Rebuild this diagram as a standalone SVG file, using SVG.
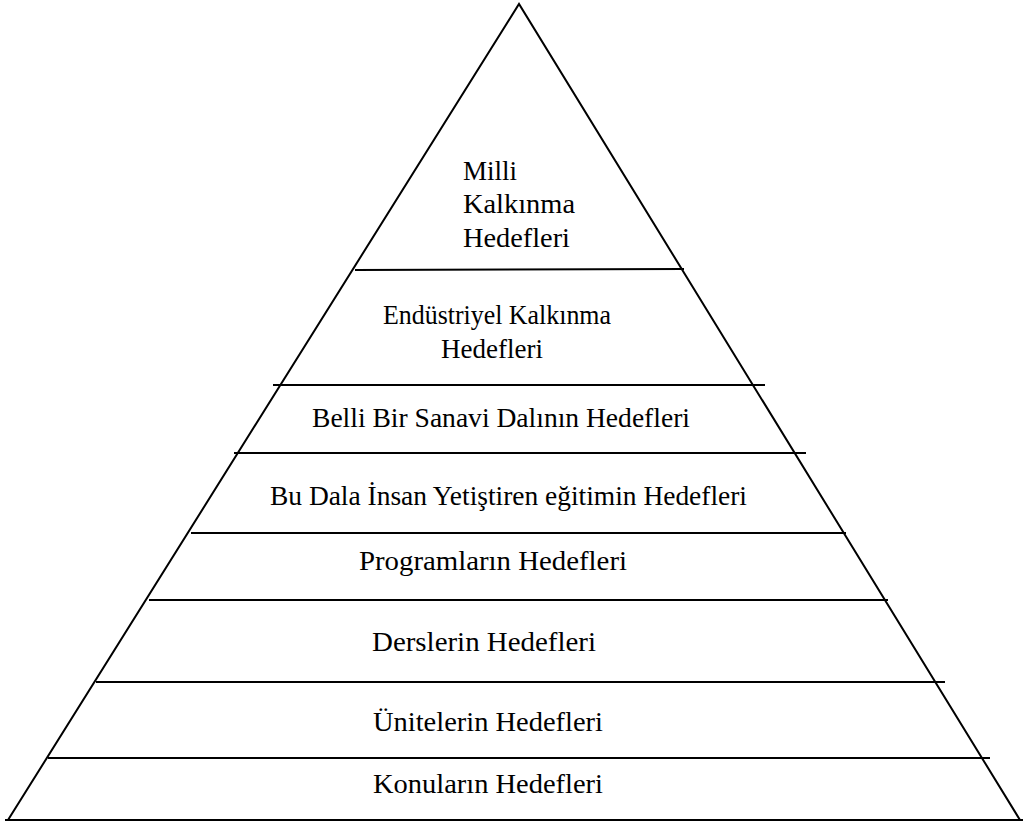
<svg xmlns="http://www.w3.org/2000/svg" width="1023" height="822" viewBox="0 0 1023 822">
<style>
.ln{stroke:#000;stroke-width:2;fill:none}
.t{font-family:"Liberation Serif","Times New Roman",serif;font-size:27px;fill:#000}
</style>
<defs><clipPath id="cb"><rect x="0" y="0" width="1023" height="796"/></clipPath></defs>
<rect width="1023" height="822" fill="#fff"/>
<g id="connectors">
<path class="ln" d="M8,820 L519,4 L1020,820"/>
<line class="ln" x1="5" y1="820" x2="1023" y2="820"/>
<line class="ln" x1="355" y1="270" x2="684" y2="269"/>
<line class="ln" x1="273" y1="385" x2="765" y2="385"/>
<line class="ln" x1="234" y1="453" x2="806" y2="453"/>
<line class="ln" x1="191" y1="533" x2="846" y2="533"/>
<line class="ln" x1="149" y1="600" x2="888" y2="600"/>
<line class="ln" x1="96" y1="682" x2="945" y2="682"/>
<line class="ln" x1="48" y1="758" x2="990" y2="758"/>
</g>
<g id="n1"><text class="t" x="463" y="180">Milli</text><text class="t" x="463" y="213" textLength="112" lengthAdjust="spacingAndGlyphs">Kalkınma</text><text class="t" x="463" y="247" textLength="107" lengthAdjust="spacingAndGlyphs">Hedefleri</text></g>
<g id="n2"><text class="t" x="383" y="324" textLength="228" lengthAdjust="spacingAndGlyphs">Endüstriyel Kalkınma</text><text class="t" x="441" y="358">Hedefleri</text></g>
<g id="n3"><text class="t" x="312" y="427" textLength="378" lengthAdjust="spacingAndGlyphs">Belli Bir Sanavi Dalının Hedefleri</text></g>
<g id="n4"><text class="t" x="270" y="505" textLength="477" lengthAdjust="spacingAndGlyphs">Bu Dala İnsan Yetiştiren eğitimin Hedefleri</text></g>
<g id="n5"><text class="t" x="359" y="570" textLength="268" lengthAdjust="spacingAndGlyphs">Programların Hedefleri</text></g>
<g id="n6"><text class="t" x="372" y="651" textLength="224" lengthAdjust="spacingAndGlyphs">Derslerin Hedefleri</text></g>
<g id="n7"><text class="t" x="373" y="731" textLength="230" lengthAdjust="spacingAndGlyphs">Ünitelerin Hedefleri</text></g>
<g id="n8" clip-path="url(#cb)"><text class="t" x="373" y="793" textLength="230" lengthAdjust="spacingAndGlyphs">Konuların Hedefleri</text></g>
</svg>
